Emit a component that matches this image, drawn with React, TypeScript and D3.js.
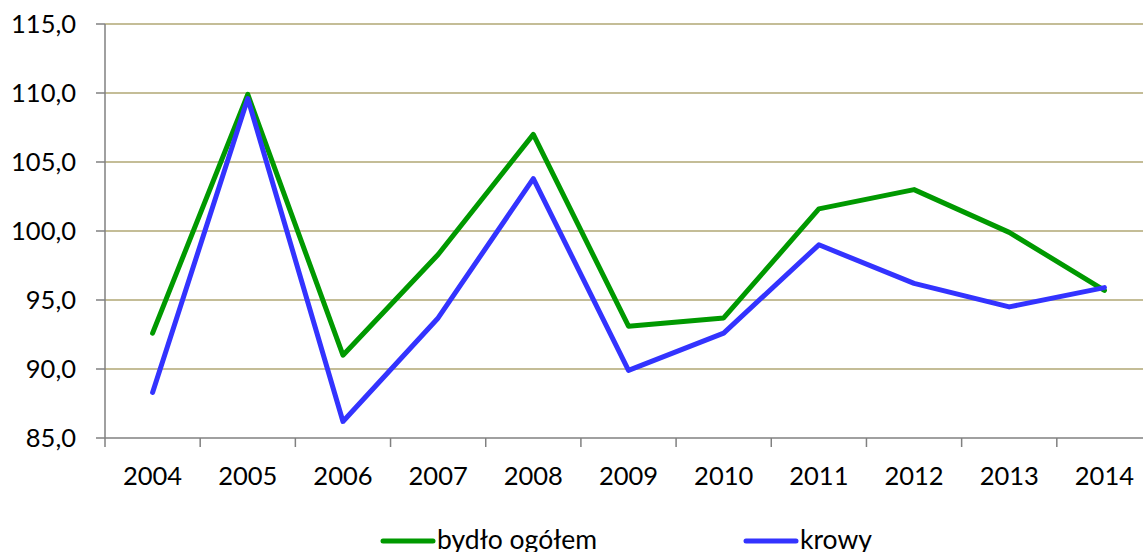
import * as React from 'react';
import * as d3 from 'd3';

const years = ['2004', '2005', '2006', '2007', '2008', '2009', '2010', '2011', '2012', '2013', '2014'];
const bydlo = [92.6, 109.9, 91.0, 98.3, 107.0, 93.1, 93.7, 101.6, 103.0, 99.9, 95.7];
const krowy = [88.3, 109.6, 86.2, 93.7, 103.8, 89.9, 92.6, 99.0, 96.2, 94.5, 95.9];
const yTicks = [85, 90, 95, 100, 105, 110, 115];

const W = 1143;
const H = 552;
const FONT = 'Lato, "Open Sans", sans-serif';

export default function App() {
  const ref = React.useRef<SVGSVGElement>(null);

  React.useEffect(() => {
    const svg = d3.select(ref.current);
    svg.selectAll('*').remove();

    const x = d3.scaleBand().domain(years).range([105, 1152]);
    const y = d3.scaleLinear().domain([85, 115]).range([438, 24]);
    const cx = (d: string) => (x(d) as number) + x.bandwidth() / 2;

    // grid
    svg.append('g')
      .selectAll('line')
      .data(yTicks.filter(t => t > 85))
      .enter()
      .append('line')
      .attr('x1', 105).attr('x2', W)
      .attr('y1', d => y(d)).attr('y2', d => y(d))
      .attr('stroke', '#C4BD97').attr('stroke-width', 2);

    // y axis
    const yAxis = svg.append('g');
    yAxis.append('line')
      .attr('x1', 105).attr('x2', 105).attr('y1', 24).attr('y2', 438)
      .attr('stroke', '#808080').attr('stroke-width', 1.5);
    yAxis.selectAll('.tick')
      .data(yTicks)
      .enter()
      .append('line')
      .attr('x1', 96).attr('x2', 105)
      .attr('y1', d => y(d)).attr('y2', d => y(d))
      .attr('stroke', '#808080').attr('stroke-width', 1.5);
    yAxis.selectAll('text')
      .data(yTicks)
      .enter()
      .append('text')
      .attr('x', 76).attr('y', d => y(d))
      .attr('dy', '0.35em')
      .attr('text-anchor', 'end')
      .attr('font-family', FONT).attr('font-size', 25.5)
      .attr('fill', '#000')
      .text(d => d3.format('.1f')(d).replace('.', ','));

    // x axis
    const xAxis = svg.append('g');
    xAxis.append('line')
      .attr('x1', 105).attr('x2', W).attr('y1', 438).attr('y2', 438)
      .attr('stroke', '#808080').attr('stroke-width', 1.5);
    xAxis.selectAll('.tick')
      .data(years)
      .enter()
      .append('line')
      .attr('x1', d => x(d) as number).attr('x2', d => x(d) as number)
      .attr('y1', 438).attr('y2', 447)
      .attr('stroke', '#808080').attr('stroke-width', 1.5);
    xAxis.selectAll('text')
      .data(years)
      .enter()
      .append('text')
      .attr('x', d => cx(d)).attr('y', 485)
      .attr('text-anchor', 'middle')
      .attr('font-family', FONT).attr('font-size', 25.5)
      .attr('fill', '#000')
      .text(d => d);

    const line = d3.line<number>()
      .x((_, i) => cx(years[i]))
      .y(d => y(d));

    const series = [
      { name: 'bydło ogółem', values: bydlo, color: '#009900', lx: 383 },
      { name: 'krowy', values: krowy, color: '#3333FF', lx: 746 },
    ];

    series.forEach(s => {
      svg.append('path')
        .datum(s.values)
        .attr('d', line)
        .attr('fill', 'none')
        .attr('stroke', s.color)
        .attr('stroke-width', 5)
        .attr('stroke-linejoin', 'round')
        .attr('stroke-linecap', 'round');

      svg.append('line')
        .attr('x1', s.lx).attr('x2', s.lx + 50)
        .attr('y1', 541).attr('y2', 541)
        .attr('stroke', s.color).attr('stroke-width', 5)
        .attr('stroke-linecap', 'round');
      svg.append('text')
        .attr('x', s.lx + 54).attr('y', 549)
        .attr('font-family', FONT).attr('font-size', 26.5)
        .attr('fill', '#000')
        .text(s.name);
    });
  }, []);

  return (
    <div style={{ position: 'absolute', left: 0, top: 0 }}>
      <svg ref={ref} width={W} height={H} style={{ display: 'block', background: '#fff' }} />
    </div>
  );
}
